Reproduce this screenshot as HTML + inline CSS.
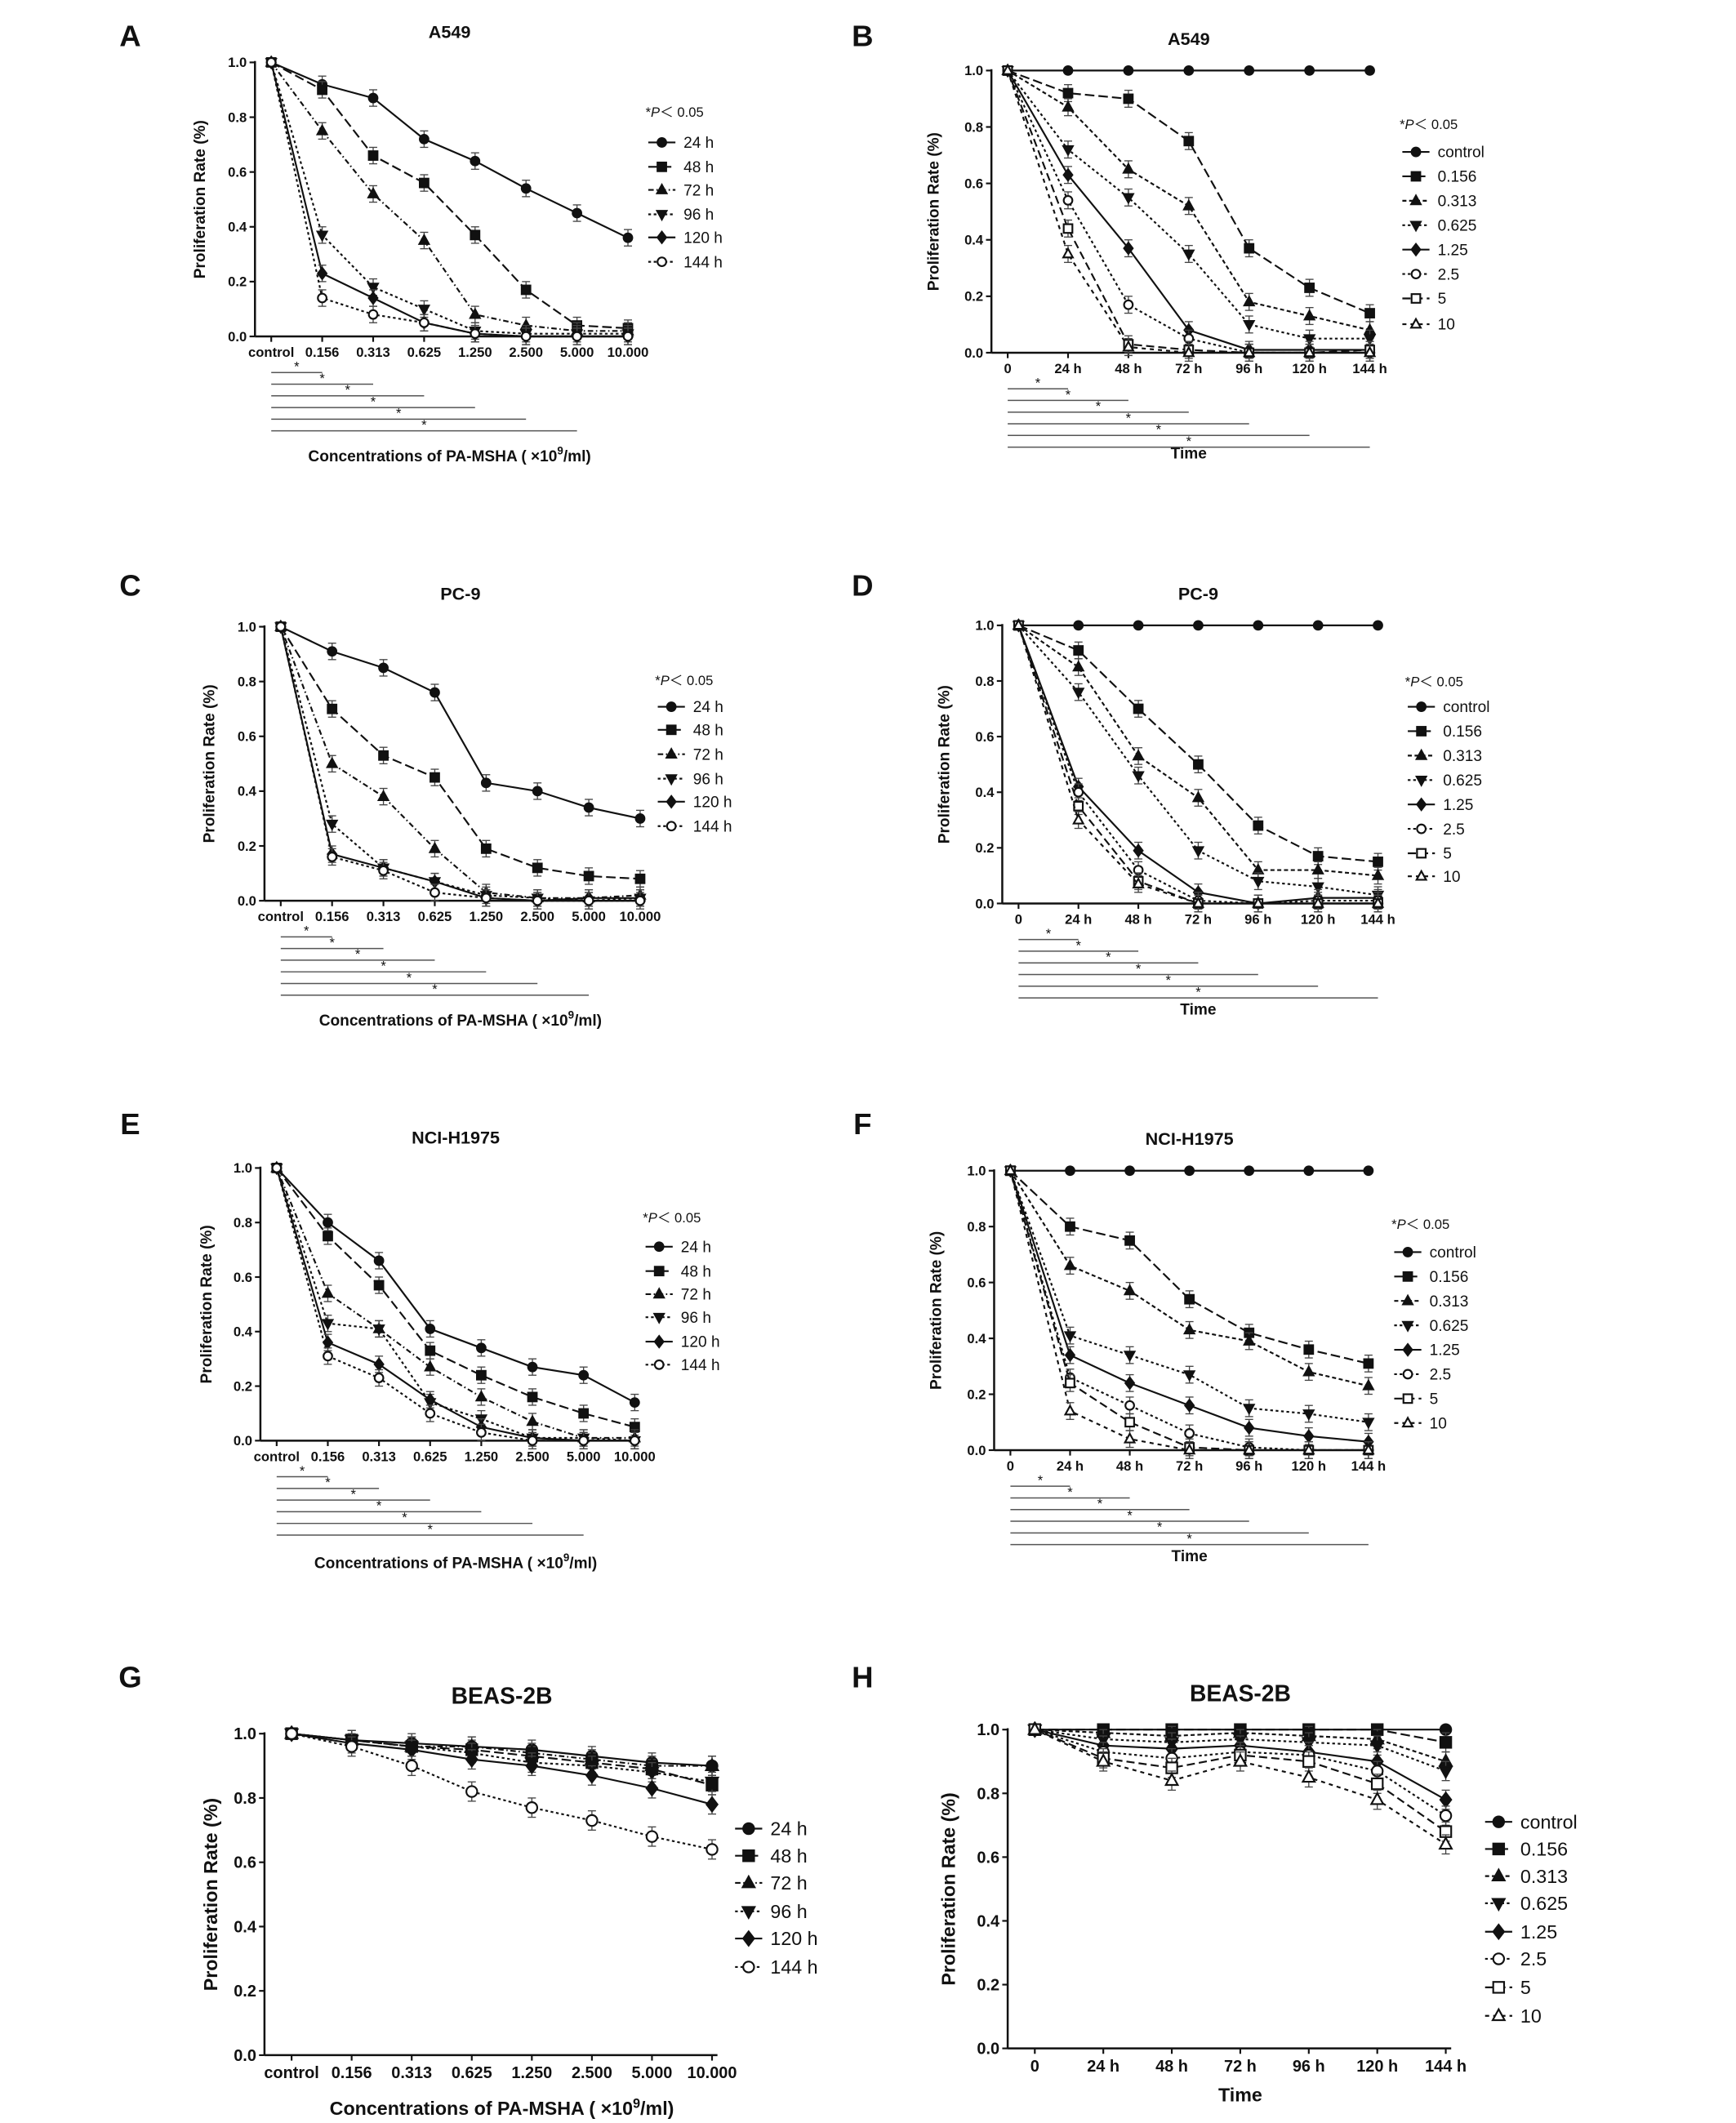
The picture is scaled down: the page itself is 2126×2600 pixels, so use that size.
<!DOCTYPE html>
<html><head><meta charset="utf-8"><style>
html,body{margin:0;padding:0;background:#fff}
svg{display:block}
text{font-family:"Liberation Sans",Arial,sans-serif;fill:#111}
</style></head><body>
<svg id="fig" width="2126" height="2600" viewBox="0 0 1280 1565" preserveAspectRatio="none" xmlns="http://www.w3.org/2000/svg"></svg>
<script>
const concCats=["control","0.156","0.313","0.625","1.250","2.500","5.000","10.000"];
const timeCats=["0","24 h","48 h","72 h","96 h","120 h","144 h"];
const hourNames=["24 h","48 h","72 h","96 h","120 h","144 h"];
const concNames=["control","0.156","0.313","0.625","1.25","2.5","5","10"];
const yTicks=[0,0.2,0.4,0.6,0.8,1.0];
const dataA=[[1,0.92,0.87,0.72,0.64,0.54,0.45,0.36],[1,0.9,0.66,0.56,0.37,0.17,0.04,0.03],[1,0.75,0.52,0.35,0.08,0.04,0.02,0.02],[1,0.37,0.18,0.1,0.02,0.01,0.01,0.01],[1,0.23,0.14,0.05,0.01,0,0,0],[1,0.14,0.08,0.05,0.01,0,0,0]];
const dataB=[[1,1,1,1,1,1,1],[1,0.92,0.9,0.75,0.37,0.23,0.14],[1,0.87,0.65,0.52,0.18,0.13,0.08],[1,0.72,0.55,0.35,0.1,0.05,0.05],[1,0.63,0.37,0.08,0.01,0.01,0.01],[1,0.54,0.17,0.05,0,0,0],[1,0.44,0.03,0.01,0,0,0.01],[1,0.35,0.02,0,0,0,0]];
const dataC=[[1,0.91,0.85,0.76,0.43,0.4,0.34,0.3],[1,0.7,0.53,0.45,0.19,0.12,0.09,0.08],[1,0.5,0.38,0.19,0.03,0.01,0.01,0.02],[1,0.28,0.12,0.07,0.02,0.01,0,0.01],[1,0.17,0.12,0.07,0.01,0,0.01,0.01],[1,0.16,0.11,0.03,0.01,0,0,0]];
const dataD=[[1,1,1,1,1,1,1],[1,0.91,0.7,0.5,0.28,0.17,0.15],[1,0.85,0.53,0.38,0.12,0.12,0.1],[1,0.76,0.46,0.19,0.08,0.06,0.03],[1,0.42,0.19,0.04,0,0.02,0.02],[1,0.4,0.12,0.01,0,0.01,0.01],[1,0.35,0.08,0,0,0,0],[1,0.3,0.07,0,0,0,0]];
const dataE=[[1,0.8,0.66,0.41,0.34,0.27,0.24,0.14],[1,0.75,0.57,0.33,0.24,0.16,0.1,0.05],[1,0.54,0.41,0.27,0.16,0.07,0.01,0.01],[1,0.43,0.41,0.14,0.08,0.01,0.01,0],[1,0.36,0.28,0.15,0.05,0.01,0,0],[1,0.31,0.23,0.1,0.03,0,0,0]];
const dataF=[[1,1,1,1,1,1,1],[1,0.8,0.75,0.54,0.42,0.36,0.31],[1,0.66,0.57,0.43,0.39,0.28,0.23],[1,0.41,0.34,0.27,0.15,0.13,0.1],[1,0.34,0.24,0.16,0.08,0.05,0.03],[1,0.26,0.16,0.06,0.01,0,0],[1,0.24,0.1,0.01,0,0,0],[1,0.14,0.04,0,0,0,0]];
const dataG=[[1,0.98,0.97,0.96,0.95,0.93,0.91,0.9],[1,0.98,0.96,0.95,0.93,0.91,0.89,0.84],[1,0.98,0.96,0.96,0.94,0.92,0.9,0.9],[1,0.98,0.96,0.94,0.91,0.9,0.88,0.85],[1,0.97,0.95,0.92,0.9,0.87,0.83,0.78],[1,0.96,0.9,0.82,0.77,0.73,0.68,0.64]];
const dataH=[[1,1,1,1,1,1,1],[1,1,1,1,1,1,0.96],[1,0.99,0.98,0.99,0.98,0.97,0.9],[1,0.97,0.96,0.97,0.96,0.95,0.87],[1,0.95,0.94,0.95,0.93,0.9,0.78],[1,0.93,0.91,0.93,0.92,0.87,0.73],[1,0.91,0.88,0.92,0.9,0.83,0.68],[1,0.9,0.84,0.9,0.85,0.78,0.64]];

const svg=document.getElementById('fig');
const NS="http://www.w3.org/2000/svg";
function mk(tag,attrs,parent){const e=document.createElementNS(NS,tag);for(const k in attrs)e.setAttribute(k,attrs[k]);(parent||svg).appendChild(e);return e;}
function txt(s,x,y,size,anchor,weight,parent){const t=mk('text',{x:x,y:y,'font-size':size,'text-anchor':anchor||'middle','font-weight':weight||'bold'},parent);t.textContent=s;return t;}
const hourDash=["","7,3","4,2,1,2","2,2","","2,2"];
const hourMark=["circle","square","tri","itri","diamond","ocircle"];
const concDash=["","7,3","3,2","2,2","","2,2","6,3","3,3"];
const concMark=["circle","square","tri","itri","diamond","ocircle","osquare","otri"];
function marker(type,x,y,r,g){
  const fill=type[0]==='o'?'#fff':'#111';const st={fill:fill,stroke:'#111','stroke-width':1.3};
  const t=type.replace(/^o(?=circle|square|tri)/,'');
  let e;
  if(t==='circle')e=mk('circle',Object.assign({cx:x,cy:y,r:r},st),g);
  else if(t==='square')e=mk('rect',Object.assign({x:x-r,y:y-r,width:2*r,height:2*r},st),g);
  else if(t==='tri')e=mk('polygon',Object.assign({points:`${x},${y-r*1.2} ${x-r*1.1},${y+r*0.8} ${x+r*1.1},${y+r*0.8}`},st),g);
  else if(t==='itri')e=mk('polygon',Object.assign({points:`${x},${y+r*1.2} ${x-r*1.1},${y-r*0.8} ${x+r*1.1},${y-r*0.8}`},st),g);
  else e=mk('polygon',Object.assign({points:`${x},${y-r*1.3} ${x+r},${y} ${x},${y+r*1.3} ${x-r},${y}`},st),g);
  return e;
}
function panel(p){
  const g=mk('g',{});
  
  
  const n=p.cats.length;
  const xs=i=>p.x0+(p.x1-p.x0)*i/(n-1);
  const ys=v=>p.y0+(p.y1-p.y0)*(1-v);
  const fs=p.fs;
  const lt=txt(p.letter,p.lx,p.ly,22,'middle','bold',g);lt.setAttribute('font-family','Liberation Serif,serif');
  
  const tt=txt(p.title,(p.x0+p.x1)/2,p.ty,p.tfs,'middle','bold',g);
  
  const ax=p.x0-p.axo;
  const ya=mk('line',{x1:ax,y1:p.y0-1,x2:ax,y2:p.y1,stroke:'#111','stroke-width':1.5},g);
  
  const xa=mk('line',{x1:ax,y1:p.y1,x2:p.x1+4,y2:p.y1,stroke:'#111','stroke-width':1.5},g);
  
  yTicks.forEach(v=>{mk('line',{x1:ax-4,y1:ys(v),x2:ax,y2:ys(v),stroke:'#111','stroke-width':1.3},g);
    const t=txt(v.toFixed(1),ax-6,ys(v)+fs*0.35,fs,'end','bold',g);
    });
  p.cats.forEach((c,i)=>{mk('line',{x1:xs(i),y1:p.y1,x2:xs(i),y2:p.y1+4,stroke:'#111','stroke-width':1.3},g);
    const t=txt(c,xs(i),p.y1+fs+5,fs,'middle','bold',g);
    });
  const yl=txt('Proliferation Rate (%)',0,0,p.afs,'middle','bold',g);
  yl.setAttribute('transform',`translate(${p.ylx},${(p.y0+p.y1)/2}) rotate(-90)`);
  
  const xt=mk('text',{x:(p.x0+p.x1)/2,y:p.xty,'font-size':p.afs,'text-anchor':'middle','font-weight':'bold'},g);
  if(p.time){xt.textContent='Time';}
  else{xt.textContent='Concentrations of PA-MSHA ( \u00d710';const s=mk('tspan',{dy:-5,'font-size':p.afs*0.7},xt);s.textContent='9';const s2=mk('tspan',{dy:5},xt);s2.textContent='/ml)';}
  
  if(p.sig){for(let k=1;k<=6;k++){const yy=p.y1+18+k*8.6;
    mk('line',{x1:xs(0),y1:yy,x2:xs(k),y2:yy,stroke:'#555','stroke-width':0.9},g);
    const st=txt('*',(xs(0)+xs(k))/2,yy-1,10,'middle','normal',g);
    }}
  const names=p.time?concNames:hourNames, dash=p.time?concDash:hourDash, mtype=p.time?concMark:hourMark;
  p.data.forEach((ser,si)=>{
    const sg=mk('g',{},g);
    
    
    const pts=ser.map((v,i)=>xs(i)+','+ys(v)).join(' ');
    mk('polyline',{points:pts,fill:'none',stroke:'#111','stroke-width':1.3,'stroke-dasharray':dash[si]},sg);
    ser.forEach((v,i)=>{
      if(i>0&&v<0.99){const e=(p.y1-p.y0)*0.03;
        mk('line',{x1:xs(i),y1:ys(v)-e,x2:xs(i),y2:ys(v)+e,stroke:'#444','stroke-width':0.8},sg);
        mk('line',{x1:xs(i)-3,y1:ys(v)-e,x2:xs(i)+3,y2:ys(v)-e,stroke:'#444','stroke-width':0.8},sg);
        mk('line',{x1:xs(i)-3,y1:ys(v)+e,x2:xs(i)+3,y2:ys(v)+e,stroke:'#444','stroke-width':0.8},sg);}
      const m=marker(mtype[si],xs(i),ys(v),p.mr,sg);
      
    });
  });
  // legend
  const lg=mk('g',{},g);
  
  if(p.pLabel!==null){const pt=mk('text',{x:p.legx-2,y:p.pLabel,'font-size':10},lg);pt.textContent='*';
    const i1=mk('tspan',{'font-style':'italic'},pt);i1.textContent='P';const i2=mk('tspan',{},pt);i2.textContent='\uff1c 0.05';}
  names.slice(0,p.data.length).forEach((nm,si)=>{const y=p.leg[si];
    const e=mk('g',{},lg);
    mk('line',{x1:p.legx,y1:y,x2:p.legx+20,y2:y,stroke:'#111','stroke-width':1.3,'stroke-dasharray':dash[si]},e);
    marker(mtype[si],p.legx+10,y,p.mr,e);
    txt(nm,p.legx+26,y+p.lfs*0.35,p.lfs,'start','normal',e);});
}
const sm={fs:10,tfs:13,afs:11.5,mr:3.2,lfs:11.5,axo:12};
panel(Object.assign({},sm,{letter:'A',lx:96,ly:34,title:'A549',ty:28,cats:concCats,x0:200,x1:463,y0:46,y1:248,ylx:151,xty:340,sig:true,data:dataA,legx:478,pLabel:86,leg:[105,123,140,158,175,193]}));
panel(Object.assign({},sm,{letter:'B',lx:636,ly:34,title:'A549',ty:33,cats:timeCats,time:true,x0:743,x1:1010,y0:52,y1:260,ylx:692,xty:338,sig:true,data:dataB,legx:1034,pLabel:95,leg:[112,130,148,166,184,202,220,239]}));
panel(Object.assign({},sm,{letter:'C',lx:96,ly:439,title:'PC-9',ty:442,cats:concCats,x0:207,x1:472,y0:462,y1:664,ylx:158,xty:756,sig:true,data:dataC,legx:485,pLabel:505,leg:[521,538,556,574,591,609]}));
panel(Object.assign({},sm,{letter:'D',lx:636,ly:439,title:'PC-9',ty:442,cats:timeCats,time:true,x0:751,x1:1016,y0:461,y1:666,ylx:700,xty:748,sig:true,data:dataD,legx:1038,pLabel:506,leg:[521,539,557,575,593,611,629,646]}));
panel(Object.assign({},sm,{letter:'E',lx:96,ly:836,title:'NCI-H1975',ty:843,cats:concCats,x0:204,x1:468,y0:861,y1:1062,ylx:156,xty:1156,sig:true,data:dataE,legx:476,pLabel:901,leg:[919,937,954,971,989,1006]}));
panel(Object.assign({},sm,{letter:'F',lx:636,ly:836,title:'NCI-H1975',ty:844,cats:timeCats,time:true,x0:745,x1:1009,y0:863,y1:1069,ylx:694,xty:1151,sig:true,data:dataF,legx:1028,pLabel:906,leg:[923,941,959,977,995,1013,1031,1049]}));
const lg={fs:12,tfs:17,afs:14,mr:4,lfs:14,axo:20};
panel(Object.assign({},lg,{letter:'G',lx:96,ly:1244,title:'BEAS-2B',ty:1256,cats:concCats,x0:215,x1:525,y0:1278,y1:1515,ylx:160,xty:1559,sig:false,data:dataG,legx:542,pLabel:null,leg:[1348,1368,1388,1409,1429,1450]}));
panel(Object.assign({},lg,{letter:'H',lx:636,ly:1244,title:'BEAS-2B',ty:1254,cats:timeCats,time:true,x0:763,x1:1066,y0:1275,y1:1510,ylx:704,xty:1549,sig:false,data:dataH,legx:1095,pLabel:null,leg:[1343,1363,1383,1403,1424,1444,1465,1486]}));
</script>
</body></html>
